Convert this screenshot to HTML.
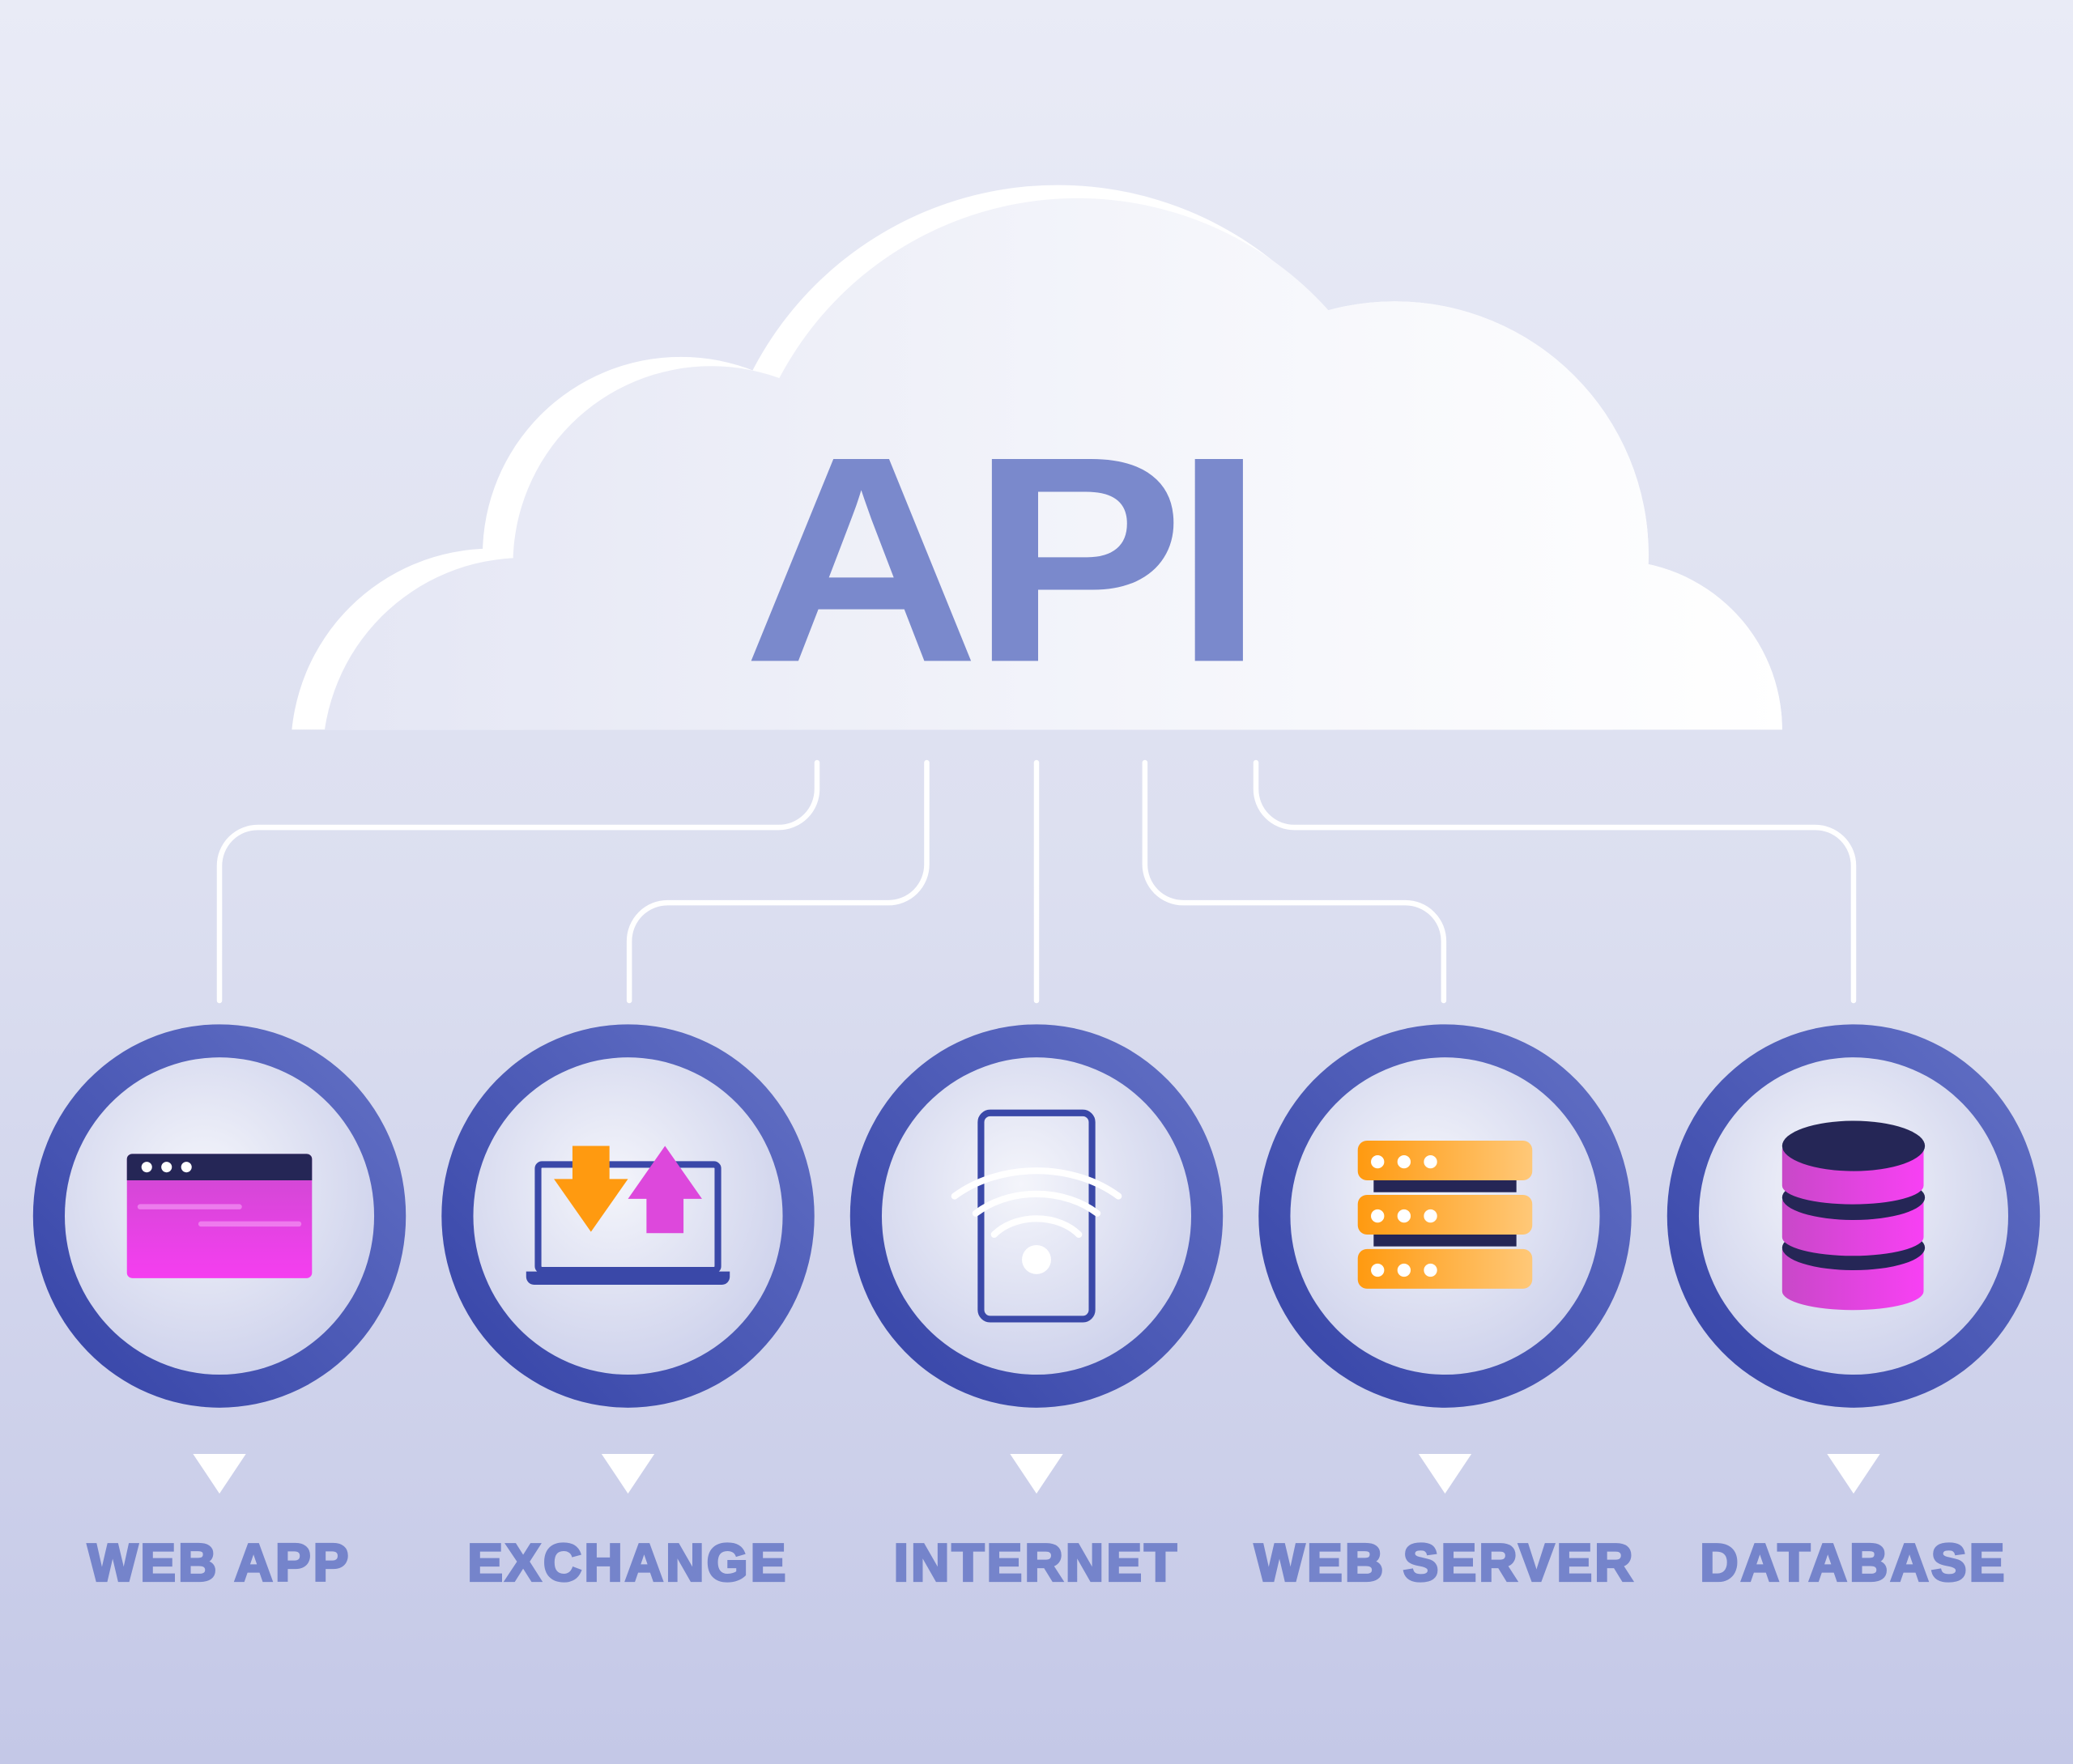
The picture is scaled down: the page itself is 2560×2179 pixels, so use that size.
<!DOCTYPE html>
<html><head><meta charset="utf-8"><style>html,body{margin:0;padding:0}svg{display:block}</style></head><body>
<svg width="2560" height="2179" viewBox="0 0 1568 1334.6" preserveAspectRatio="none" xmlns="http://www.w3.org/2000/svg">
<defs>
<linearGradient id="bg" x1="0" y1="0" x2="0" y2="1"><stop offset="0" stop-color="#e9ebf6"/><stop offset="0.5" stop-color="#dcdff0"/><stop offset="1" stop-color="#c4c8e7"/></linearGradient>
<linearGradient id="cl" gradientUnits="userSpaceOnUse" x1="240" y1="0" x2="1350" y2="0"><stop offset="0" stop-color="#e4e6f4"/><stop offset="0.6" stop-color="#f5f6fb"/><stop offset="1" stop-color="#ffffff"/></linearGradient>
<linearGradient id="ring" x1="0" y1="1" x2="1" y2="0"><stop offset="0" stop-color="#3442a6"/><stop offset="1" stop-color="#6472c6"/></linearGradient>
<radialGradient id="inner" cx="0.45" cy="0.4" r="0.6"><stop offset="0" stop-color="#f4f5fb"/><stop offset="1" stop-color="#cfd3ec"/></radialGradient>
<linearGradient id="pk" x1="0" y1="0" x2="0" y2="1"><stop offset="0" stop-color="#cc4ad0"/><stop offset="1" stop-color="#f53ef0"/></linearGradient>
<linearGradient id="or" x1="0" y1="0" x2="1" y2="0"><stop offset="0" stop-color="#ff9a10"/><stop offset="1" stop-color="#ffc878"/></linearGradient>
<linearGradient id="dbp" x1="0" y1="0" x2="1" y2="0"><stop offset="0" stop-color="#c848c8"/><stop offset="1" stop-color="#f840f4"/></linearGradient>
<clipPath id="cc"><rect x="0" y="0" width="1568" height="552"/></clipPath>
</defs>
<rect width="1568" height="1335" fill="url(#bg)"/>
<g fill="#ffffff" clip-path="url(#cc)">
<rect x="372" y="417" width="848" height="135"/>
<circle cx="372" cy="567" r="152"/>
<circle cx="515" cy="420" r="150"/>
<circle cx="800" cy="400" r="260"/>
<circle cx="1055" cy="420" r="192"/>
<circle cx="1220" cy="552" r="128"/>
</g>
<g fill="url(#cl)" clip-path="url(#cc)">
<rect x="396" y="424" width="824" height="130"/>
<circle cx="396" cy="574" r="152"/>
<circle cx="538" cy="427" r="150"/>
<circle cx="815" cy="405" r="255"/>
<circle cx="1055" cy="420" r="192"/>
<circle cx="1220" cy="552" r="128"/>
</g>
<g font-family="Liberation Sans, sans-serif" font-weight="bold" font-size="222" fill="#7a89cc">
<text x="562" y="500" textLength="179" lengthAdjust="spacingAndGlyphs">A</text>
<text x="734" y="500" textLength="162" lengthAdjust="spacingAndGlyphs">P</text>
<text x="887" y="500" textLength="70" lengthAdjust="spacingAndGlyphs">I</text>
</g>
<g fill="none" stroke="#ffffff" stroke-width="4" stroke-linecap="round">
<path d="M618 577 V597 A29 29 0 0 1 589 626 H195 A29 29 0 0 0 166 655 V757"/>
<path d="M701 577 V654 A29 29 0 0 1 672 683 H505 A29 29 0 0 0 476 712 V757"/>
<path d="M784 577 V757"/>
<path d="M866 577 V654 A29 29 0 0 0 895 683 H1063 A29 29 0 0 1 1092 712 V757"/>
<path d="M950 577 V597 A29 29 0 0 0 979 626 H1373 A29 29 0 0 1 1402 655 V757"/>
</g>
<g>
<ellipse cx="166" cy="920" rx="141" ry="145" fill="url(#ring)"/><ellipse cx="166" cy="920" rx="117" ry="120" fill="url(#inner)"/>
<ellipse cx="475" cy="920" rx="141" ry="145" fill="url(#ring)"/><ellipse cx="475" cy="920" rx="117" ry="120" fill="url(#inner)"/>
<ellipse cx="784" cy="920" rx="141" ry="145" fill="url(#ring)"/><ellipse cx="784" cy="920" rx="117" ry="120" fill="url(#inner)"/>
<ellipse cx="1093" cy="920" rx="141" ry="145" fill="url(#ring)"/><ellipse cx="1093" cy="920" rx="117" ry="120" fill="url(#inner)"/>
<ellipse cx="1402" cy="920" rx="141" ry="145" fill="url(#ring)"/><ellipse cx="1402" cy="920" rx="117" ry="120" fill="url(#inner)"/>
</g>
<rect x="96" y="873" width="140" height="94" rx="4" fill="url(#pk)"/>
<path d="M100 873 H232 A4 4 0 0 1 236 877 V893 H96 V877 A4 4 0 0 1 100 873Z" fill="#252656"/>
<circle cx="111" cy="883" r="4" fill="#fff"/><circle cx="126" cy="883" r="4" fill="#fff"/><circle cx="141" cy="883" r="4" fill="#fff"/>
<rect x="104" y="911" width="79" height="4" rx="2" fill="#f08af0" opacity="0.8"/>
<rect x="150" y="924" width="78" height="4" rx="2" fill="#f08af0" opacity="0.8"/>
<rect x="407" y="881" width="136" height="80" rx="3" fill="none" stroke="#3a48a8" stroke-width="5"/>
<path d="M398 962 H552 V966 A6 6 0 0 1 546 972 H404 A6 6 0 0 1 398 966Z" fill="#3a48a8"/>
<path d="M433 867 H461 V892 H475 L447 932 L419 892 H433Z" fill="#ff9a10"/>
<path d="M503 867 L531 907 H517 V933 H489 V907 H475Z" fill="#dd48dc"/>
<rect x="742" y="842" width="84" height="156" rx="7" fill="none" stroke="#3a48a8" stroke-width="5"/>
<g fill="none" stroke="#ffffff" stroke-width="5" stroke-linecap="round">
<path d="M722 905 A90 70 0 0 1 846 905"/>
<path d="M738 918 A65 50 0 0 1 830 918"/>
<path d="M752 934 A40 30 0 0 1 816 934"/>
</g>
<circle cx="784" cy="953" r="11" fill="#ffffff"/>
<rect x="1039" y="890" width="108" height="12" fill="#252656"/>
<rect x="1039" y="931" width="108" height="12" fill="#252656"/>
<rect x="1027" y="863" width="132" height="30" rx="7" fill="url(#or)"/>
<rect x="1027" y="904" width="132" height="30" rx="7" fill="url(#or)"/>
<rect x="1027" y="945" width="132" height="30" rx="7" fill="url(#or)"/>
<g fill="#fff"><circle cx="1042" cy="879" r="5"/><circle cx="1062" cy="879" r="5"/><circle cx="1082" cy="879" r="5"/>
<circle cx="1042" cy="920" r="5"/><circle cx="1062" cy="920" r="5"/><circle cx="1082" cy="920" r="5"/>
<circle cx="1042" cy="961" r="5"/><circle cx="1062" cy="961" r="5"/><circle cx="1082" cy="961" r="5"/></g>
<path d="M1348 945 V977 A53 14 0 0 0 1455 977 V945Z" fill="url(#dbp)"/>
<ellipse cx="1402" cy="944" rx="54" ry="17" fill="#252656"/>
<path d="M1348 908 V936 A53 14 0 0 0 1455 936 V908Z" fill="url(#dbp)"/>
<ellipse cx="1402" cy="906" rx="54" ry="17" fill="#252656"/>
<path d="M1348 869 V897 A53 14 0 0 0 1455 897 V869Z" fill="url(#dbp)"/>
<ellipse cx="1402" cy="867" rx="54" ry="19" fill="#252656"/>
<g fill="#ffffff">
<path d="M146 1100 H186 L166 1130Z"/><path d="M455 1100 H495 L475 1130Z"/><path d="M764 1100 H804 L784 1130Z"/><path d="M1073 1100 H1113 L1093 1130Z"/><path d="M1382 1100 H1422 L1402 1130Z"/>
</g>
<g font-family="Liberation Sans, sans-serif" font-weight="900" font-size="40" fill="#7584cb" stroke="#7584cb" stroke-width="2" text-anchor="middle" letter-spacing="2">
<text x="166" y="1196">WEB APP</text>
<text x="475" y="1196">EXCHANGE</text>
<text x="784" y="1196">INTERNET</text>
<text x="1093" y="1196">WEB SERVER</text>
<text x="1402" y="1196">DATABASE</text>
</g>
</svg>
</body></html>
